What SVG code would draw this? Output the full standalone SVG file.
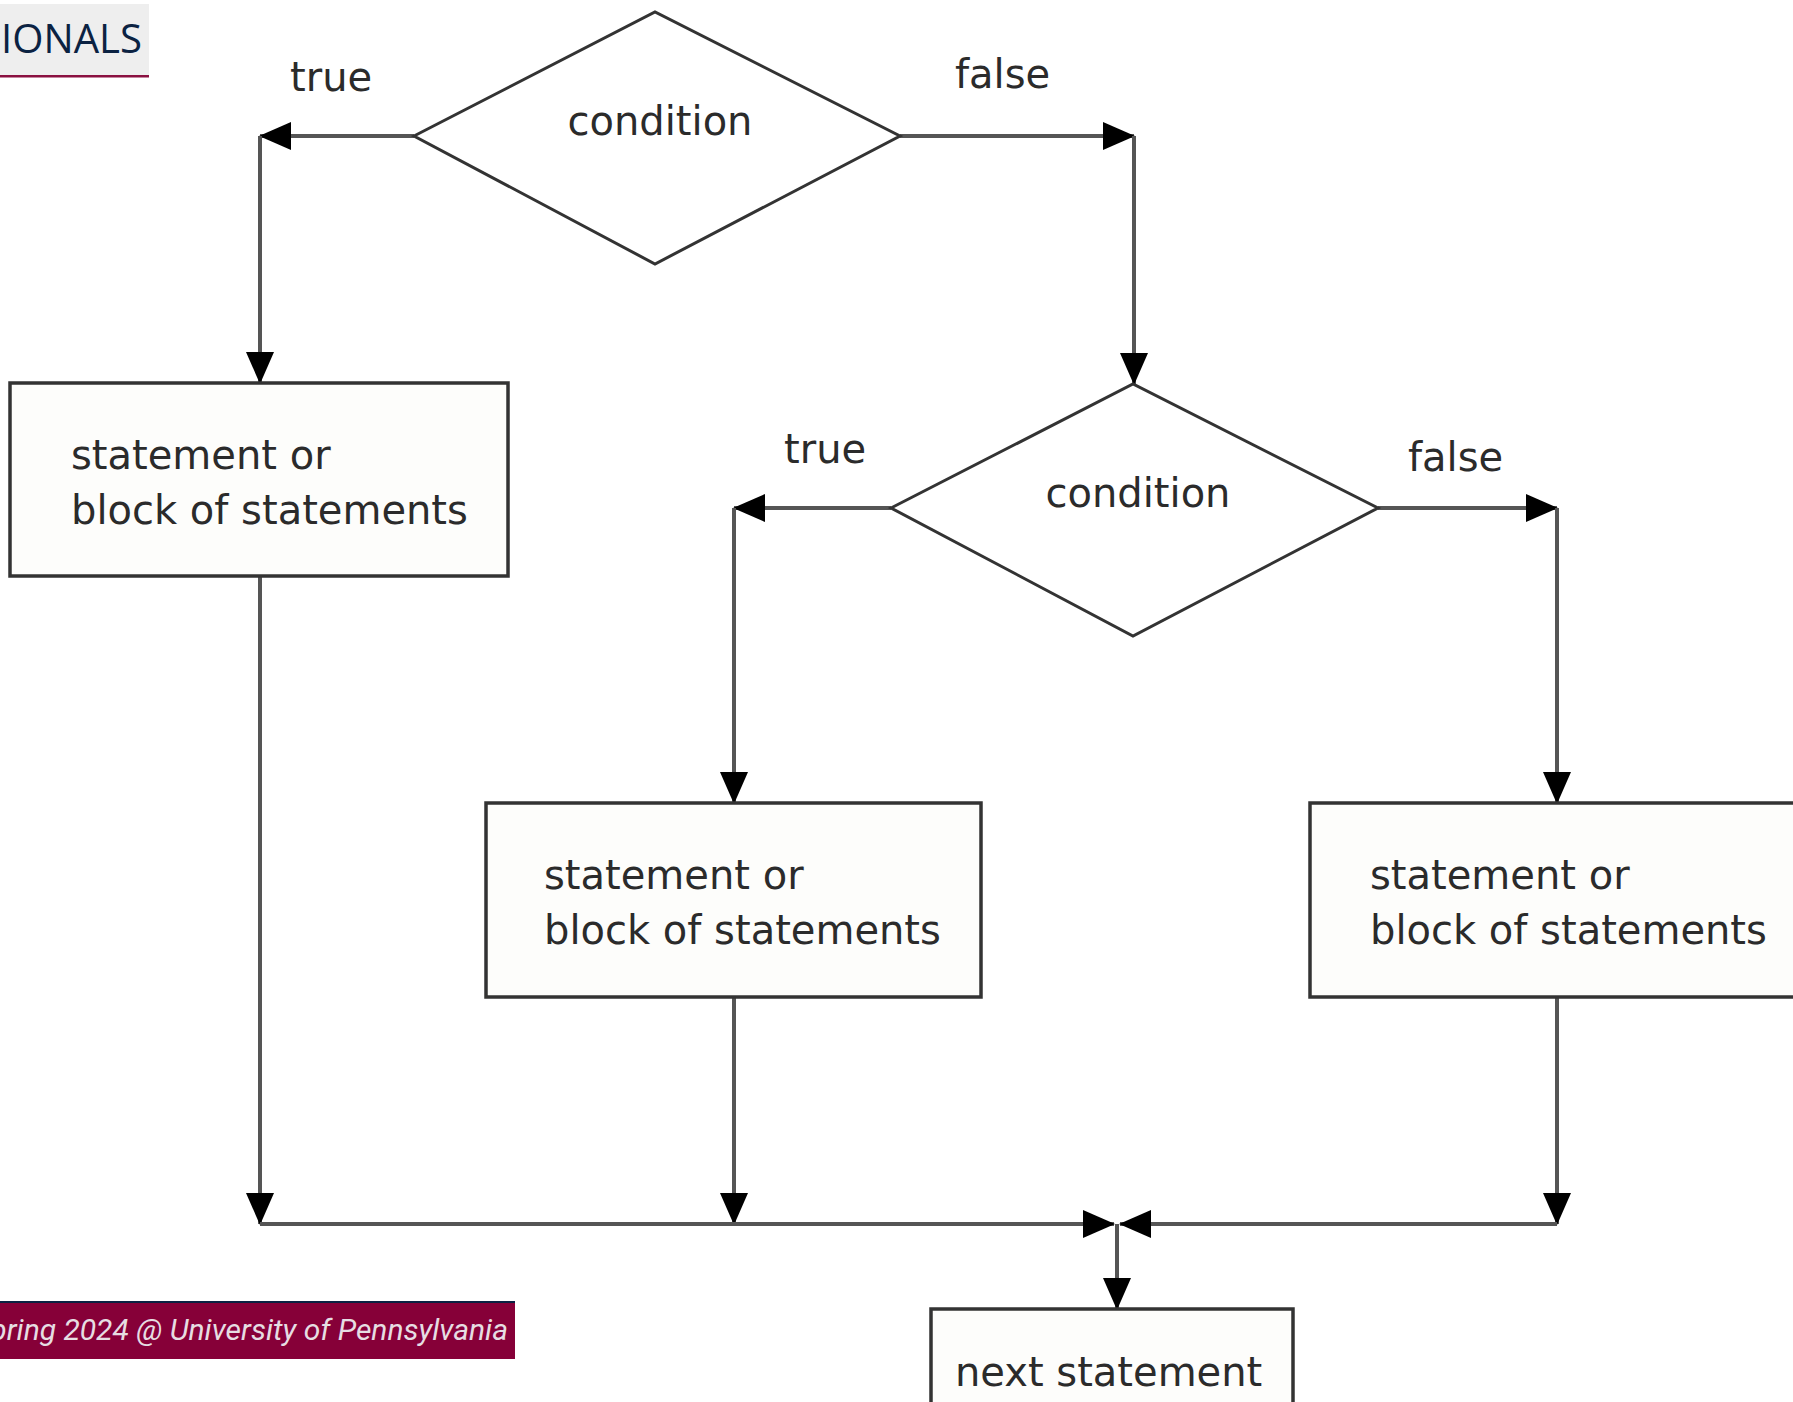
<svg xmlns="http://www.w3.org/2000/svg" width="1793" height="1402" viewBox="0 0 1793 1402">
<style>
.box{fill:#fdfdfb;stroke:#333;stroke-width:3.5}
.dia{fill:#fff;stroke:#333;stroke-width:3}
.t{font-family:"DejaVu Sans",Verdana,sans-serif;font-size:40px;fill:#2b2b2b}
.c{text-anchor:middle}
.ln{fill:none;stroke:#555;stroke-width:4;marker-end:url(#ah)}
</style>
<defs>
<marker id="ah" markerUnits="userSpaceOnUse" viewBox="0 0 32 28" markerWidth="32" markerHeight="28" refX="31" refY="14" orient="auto">
<path d="M0,0 L32,14 L0,28 z" fill="#000"/>
</marker>
</defs>
<rect width="1793" height="1402" fill="#fff"/>
<g id="title">
<rect x="0" y="4" width="149" height="73" fill="#eeeeee"/>
<rect x="0" y="75" width="149" height="2.5" fill="#8a1040"/>
<text x="142" y="53" font-family="'Open Sans',sans-serif" font-size="41" fill="#0b2242" text-anchor="end" textLength="141" lengthAdjust="spacingAndGlyphs">IONALS</text>
</g>
<g id="connectors">
<path class="ln" d="M414,136 H260"/>
<path class="ln" d="M260,136 V383"/>
<path class="ln" d="M900,136 H1134"/>
<path class="ln" d="M1134,136 V384"/>
<path class="ln" d="M891,508 H734"/>
<path class="ln" d="M734,508 V803"/>
<path class="ln" d="M1378,508 H1557"/>
<path class="ln" d="M1557,508 V803"/>
<path class="ln" d="M260,576 V1224"/>
<path class="ln" d="M734,997 V1224"/>
<path class="ln" d="M1557,997 V1224"/>
<path class="ln" d="M260,1224 H1114"/>
<path class="ln" d="M1557,1224 H1120"/>
<path class="ln" d="M1117,1224 V1309"/>
</g>
<g id="labels">
<text class="t" x="290" y="91">true</text>
<text class="t" x="955" y="88">false</text>
<text class="t" x="784" y="463">true</text>
<text class="t" x="1408" y="471">false</text>
</g>
<g id="cond1">
<polygon class="dia" points="414,136 655,12 900,136 655,264"/>
<text class="t c" x="660" y="135">condition</text>
</g>
<g id="stmt1">
<rect class="box" x="10" y="383" width="498" height="193"/>
<text class="t" x="71" y="469">statement or</text>
<text class="t" x="71" y="524">block of statements</text>
</g>
<g id="cond2">
<polygon class="dia" points="891,508 1133,384 1378,508 1133,636"/>
<text class="t c" x="1138" y="507">condition</text>
</g>
<g id="stmt2">
<rect class="box" x="486" y="803" width="495" height="194"/>
<text class="t" x="544" y="889">statement or</text>
<text class="t" x="544" y="944">block of statements</text>
</g>
<g id="stmt3">
<rect class="box" x="1310" y="803" width="500" height="194"/>
<text class="t" x="1370" y="889">statement or</text>
<text class="t" x="1370" y="944">block of statements</text>
</g>
<g id="next">
<rect class="box" x="931" y="1309" width="362" height="110"/>
<text class="t" x="955" y="1386">next statement</text>
</g>
<g id="footer">
<rect x="0" y="1301" width="515" height="58" fill="#860038"/>
<rect x="0" y="1301" width="515" height="2" fill="#0b2242"/>
<text x="508" y="1340" font-family="Roboto,sans-serif" font-style="italic" font-size="30" fill="#e6dde2" text-anchor="end">pring 2024 @ University of Pennsylvania</text>
</g>
</svg>
